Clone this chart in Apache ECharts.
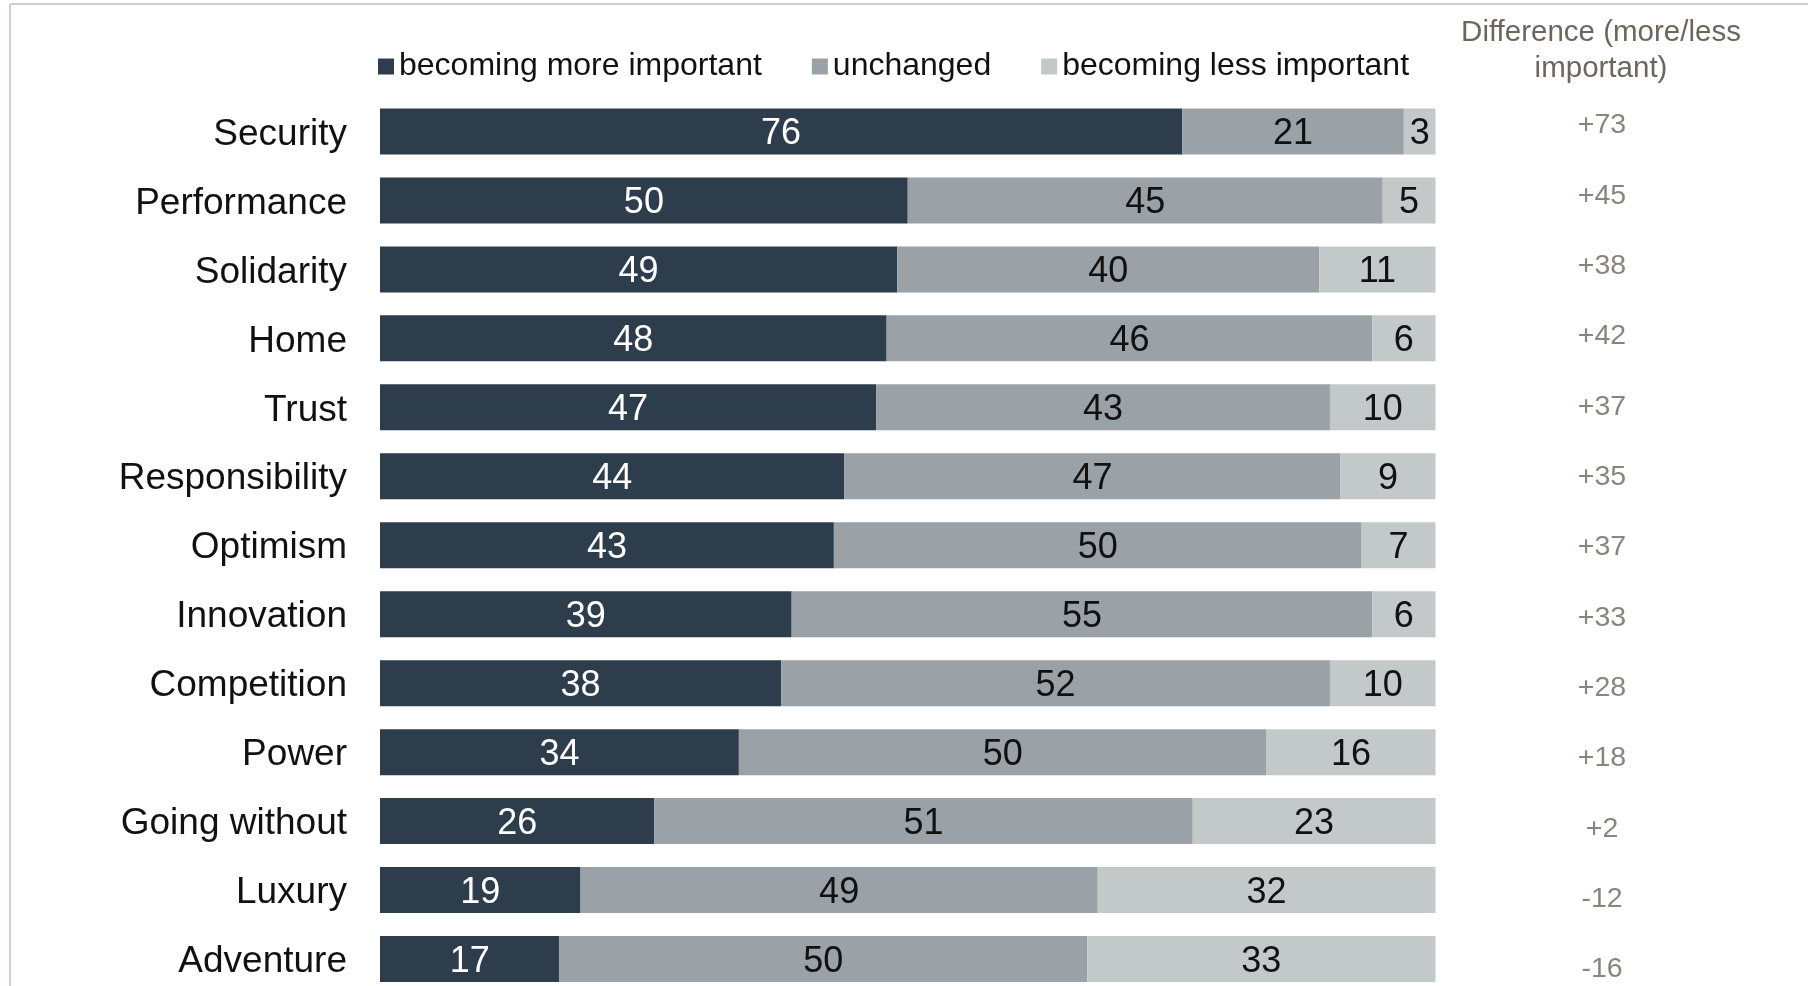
<!DOCTYPE html>
<html>
<head>
<meta charset="utf-8">
<script src="https://cdn.jsdelivr.net/npm/echarts@6/dist/echarts.min.js"></script>
<style>
html,body{margin:0;padding:0;background:#fff;}
#chart{width:1808px;height:986px;}
</style>
</head>
<body>
<div id="chart"></div>
<script>
const categories = ["Security","Performance","Solidarity","Home","Trust","Responsibility","Optimism","Innovation","Competition","Power","Going without","Luxury","Adventure"];
const moreImportant = [76,50,49,48,47,44,43,39,38,34,26,19,17];
const unchanged = [21,45,40,46,43,47,50,55,52,50,51,49,50];
const lessImportant = [3,5,11,6,10,9,7,6,10,16,23,32,33];
const difference = ["+73","+45","+38","+42","+37","+35","+37","+33","+28","+18","+2","-12","-16"];
const seriesNames = ["becoming more important","unchanged","becoming less important"];
const diffTitle = "Difference (more/less\nimportant)";

const FONT = "'Liberation Sans', Arial, sans-serif";
const colors = ["#2e3d4c","#9aa1a7","#c2c9c8"];
const labelColors = ["#ffffff","#111111","#111111"];
const values = [moreImportant, unchanged, lessImportant];

const chart = echarts.init(document.getElementById('chart'), null, {renderer:'canvas'});

const barSeries = seriesNames.map((name, k) => ({
  name: name,
  type: 'bar',
  stack: 'total',
  xAxisIndex: 0,
  yAxisIndex: 0,
  barWidth: 46,
  data: values[k],
  itemStyle: {color: colors[k]},
  label: {
    show: true,
    position: 'inside',
    offset: [0, 3],
    color: labelColors[k],
    fontFamily: FONT,
    fontSize: 36,
    formatter: p => p.value
  },
  emphasis: {disabled: true}
}));

const option = {
  animation: false,
  backgroundColor: '#ffffff',
  color: colors,
  title: {
    text: diffTitle,
    left: 1601,
    textAlign: 'center',
    top: 15,
    padding: 0,
    textStyle: {fontFamily: FONT, fontSize: 29.5, fontWeight: 'normal', color: '#6e655c', lineHeight: 36}
  },
  legend: {
    data: seriesNames,
    left: 378,
    top: 50.5,
    padding: 0,
    itemWidth: 16,
    itemHeight: 16,
    itemGap: 50,
    icon: 'rect',
    textStyle: {fontFamily: FONT, fontSize: 32, color: '#111111', padding: [0,0,0,0]},
    selectedMode: false
  },
  grid: [
    {left: 380, width: 1055.5, top: 97, height: 896.5, outerBoundsMode: 'none', containLabel: false},
    {left: 1552, width: 100, top: 88.2, height: 914.3, outerBoundsMode: 'none', containLabel: false}
  ],
  xAxis: [
    {type: 'value', gridIndex: 0, min: 0, max: 100, show: false},
    {type: 'value', gridIndex: 1, min: -1, max: 1, show: false}
  ],
  yAxis: [
    {
      type: 'category', gridIndex: 0, inverse: true, data: categories,
      axisLine: {show: false}, axisTick: {show: false}, splitLine: {show: false},
      axisLabel: {
        margin: 33,
        formatter: v => '{c|' + v + '}',
        rich: {c: {fontFamily: FONT, fontSize: 37, color: '#111111', padding: [6,0,0,0]}}
      }
    },
    {type: 'category', gridIndex: 1, inverse: true, data: categories, show: false}
  ],
  series: barSeries.concat([{
    type: 'scatter',
    xAxisIndex: 1,
    yAxisIndex: 1,
    symbolSize: 1,
    itemStyle: {color: 'rgba(0,0,0,0)'},
    data: categories.map((c, i) => [0, c]),
    label: {
      show: true,
      position: 'inside',
      offset: [0, 2],
      fontFamily: FONT,
      fontSize: 28.5,
      color: '#6e655c',
      formatter: p => difference[p.dataIndex]
    },
    emphasis: {disabled: true}
  }]),
  graphic: [
    {type: 'line', shape: {x1: 10, y1: 4, x2: 1808, y2: 4}, style: {stroke: '#d6cec3', lineWidth: 2}},
    {type: 'line', shape: {x1: 10, y1: 4, x2: 10, y2: 986}, style: {stroke: '#d6cec3', lineWidth: 2}}
  ]
};
chart.setOption(option);
</script>
</body>
</html>
